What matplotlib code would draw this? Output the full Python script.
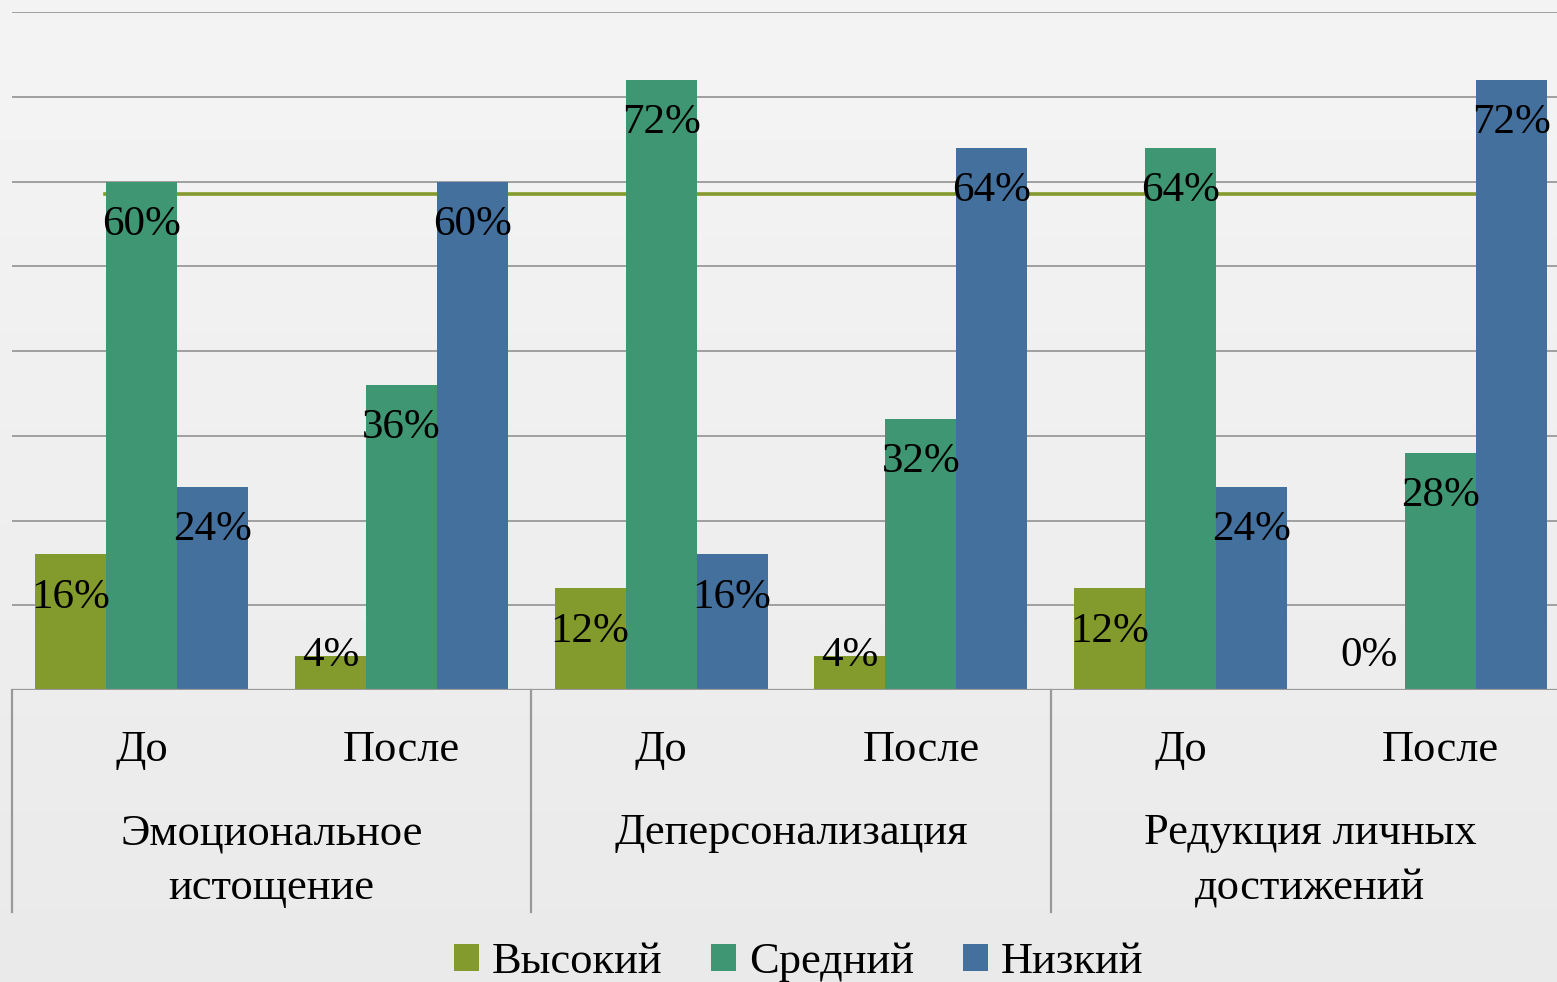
import numpy as np
import matplotlib
matplotlib.use('Agg')
import matplotlib.pyplot as plt
from matplotlib.patches import Patch

# data
periods = ['До', 'После', 'До', 'После', 'До', 'После']
categories = [['Эмоциональное', 'истощение'], ['Деперсонализация'], ['Редукция личных', 'достижений']]
series = ['Высокий', 'Средний', 'Низкий']
high = [16, 4, 12, 4, 12, 0]
mid = [60, 36, 72, 32, 64, 28]
low = [24, 60, 16, 64, 24, 72]
colors = ['#839A2C', '#3E9772', '#44709D']
ref_level = 58.5

plt.rcParams['font.family'] = ['Liberation Serif', 'DejaVu Serif']

W, H = 1557, 982
fig = plt.figure(figsize=(W / 100, H / 100), dpi=100)

# background with soft vertical gradient
bg = fig.add_axes([0, 0, 1, 1], zorder=-10)
grad = np.linspace(0.955, 0.915, 256).reshape(-1, 1)
bg.imshow(grad, cmap='gray', vmin=0, vmax=1, aspect='auto', extent=[0, 1, 0, 1])
bg.axis('off')

ax = fig.add_axes([12 / W, (H - 690) / H, (1570 - 12) / W, (690 - 12) / H])
ax.patch.set_alpha(0)
x = np.arange(len(periods))
bw = 0.2735

for k in range(1, 9):
    ax.axhline(k * 10, color='#999999', lw=1.3, zorder=1)
ax.plot([-0.143, 5.4], [ref_level, ref_level], color='#839A2C', lw=2.6, zorder=1)

for i, (vals, c) in enumerate(zip([high, mid, low], colors)):
    xs = x + (i - 1) * bw
    ax.bar(xs, vals, width=bw, color=c, zorder=2)
    for xi, v in zip(xs, vals):
        ax.text(xi, max(v - 5.1, 4.1), f'{v}%', ha='center', va='center',
                fontsize=31, color='black', zorder=3)

ax.axhline(0, color='#999999', lw=1.6, zorder=3)
ax.set_xlim(-0.5, 5.5)
ax.set_ylim(0, 80)
ax.axis('off')

# category axis below
for xs in [-0.5, 1.5, 3.5, 5.5]:
    ax.plot([xs, xs], [0, -26.2], color='#999999', lw=1.6, clip_on=False)
for xi, p in zip(x, periods):
    ax.text(xi, -7.1, p, ha='center', va='center', fontsize=32)
for j, lines in enumerate(categories):
    cx = 2 * j + 0.5
    for n, line in enumerate(lines):
        ax.text(cx, -16.9 - 6.5 * n, line, ha='center', va='center', fontsize=32)

handles = [Patch(facecolor=c, edgecolor='none', label=s) for s, c in zip(series, colors)]
fig.legend(handles=handles, loc='center', bbox_to_anchor=(0.513, 1 - 962 / H), ncol=3,
           frameon=False, fontsize=32, handlelength=0.55, handleheight=0.55,
           handletextpad=0.3, columnspacing=1.1)

fig.savefig('out.png', dpi=100)
